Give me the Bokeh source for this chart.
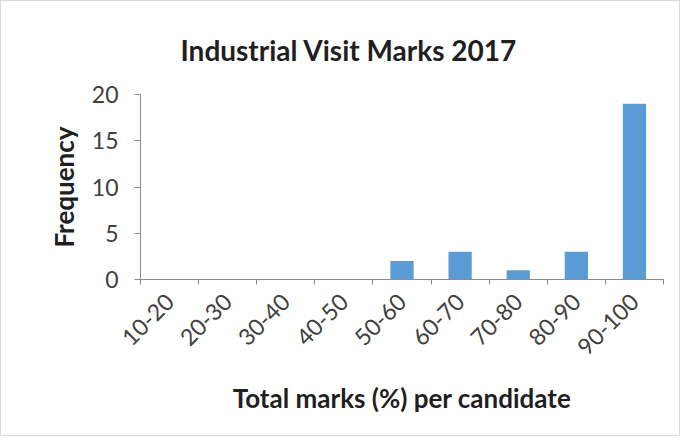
import math
from bokeh.plotting import figure
from bokeh.models import Range1d, FixedTicker, Title
from bokeh.embed import file_html
from bokeh.resources import INLINE

categories = ["10-20", "20-30", "30-40", "40-50", "50-60", "60-70", "70-80", "80-90", "90-100"]
frequency = [0, 0, 0, 0, 2, 3, 1, 3, 19]
y_ticks = [0, 5, 10, 15, 20]
title_text = "Industrial Visit Marks 2017"
x_title = "Total marks (%) per candidate"
y_title = "Frequency"

FONT = "Lato"
n = len(categories)
centers = [i + 0.5 for i in range(n)]
edges = list(range(n + 1))

p = figure(width=680, height=436,
           x_range=Range1d(0, n), y_range=Range1d(0, max(y_ticks)),
           output_backend="svg", toolbar_location=None,
           min_border_left=139, min_border_right=18,
           min_border_top=93, min_border_bottom=158)
p.outline_line_color = None
p.grid.visible = False
p.styles = {"border": "1px solid #d9d9d9"}

p.vbar(x=centers, top=frequency, width=0.4, fill_color="#5B9BD5", line_color=None)

AX = "#8c8c8c"
TXT = "#404040"
DARK = "#1f1f1f"

xa = p.xaxis[0]
xa.ticker = FixedTicker(ticks=centers, minor_ticks=edges)
xa.major_label_overrides = {c: lab for c, lab in zip(centers, categories)}
xa.major_label_orientation = math.pi / 4
xa.major_tick_line_color = None
xa.major_tick_in = 0
xa.major_tick_out = 0
xa.minor_tick_in = 0
xa.minor_tick_out = 5
xa.minor_tick_line_color = AX
xa.axis_line_color = AX
xa.major_label_text_font = FONT
xa.major_label_text_font_size = "23px"
xa.major_label_text_color = TXT
xa.major_label_standoff = 13
xa.axis_label = x_title
xa.axis_label_text_font = FONT
xa.axis_label_text_font_style = "bold"
xa.axis_label_text_font_size = "26px"
xa.axis_label_text_color = DARK
xa.axis_label_standoff = 16

ya = p.yaxis[0]
ya.ticker = FixedTicker(ticks=y_ticks, minor_ticks=[])
ya.major_tick_in = 0
ya.major_tick_out = 6
ya.major_tick_line_color = AX
ya.axis_line_color = AX
ya.major_label_text_font = FONT
ya.major_label_text_font_size = "23px"
ya.major_label_text_color = TXT
ya.major_label_standoff = 16
ya.axis_label = y_title
ya.axis_label_text_font = FONT
ya.axis_label_text_font_style = "bold"
ya.axis_label_text_font_size = "26px"
ya.axis_label_text_color = DARK
ya.axis_label_standoff = 9

p.add_layout(Title(text=title_text, align="left", offset=40, standoff=55,
                   text_font=FONT, text_font_style="bold", text_font_size="28px",
                   text_color=DARK), "above")

open("out.html", "w").write(file_html(p, INLINE))
